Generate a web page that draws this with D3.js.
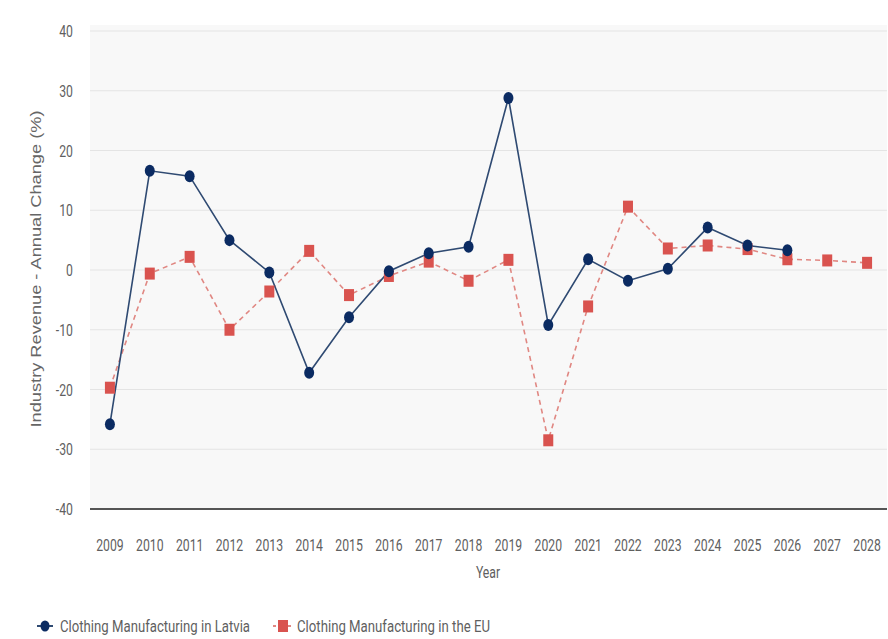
<!DOCTYPE html>
<html>
<head>
<meta charset="utf-8">
<script src="https://cdn.jsdelivr.net/npm/d3@7"></script>
<style>
  html, body { margin: 0; padding: 0; background: #ffffff; }
  svg { display: block; }
</style>
</head>
<body>
<svg id="chart" width="888" height="639"></svg>
<script>
const years = [2009,2010,2011,2012,2013,2014,2015,2016,2017,2018,2019,2020,2021,2022,2023,2024,2025,2026,2027,2028];
const latvia = [-25.8,16.6,15.7,5.0,-0.4,-17.2,-7.9,-0.2,2.8,3.9,28.8,-9.2,1.8,-1.8,0.2,7.1,4.1,3.3,null,null];
const eu = [-19.7,-0.6,2.2,-10.0,-3.6,3.2,-4.2,-1.0,1.4,-1.8,1.7,-28.5,-6.1,10.6,3.6,4.1,3.5,1.8,1.6,1.2];
const yTicks = [-40,-30,-20,-10,0,10,20,30,40];
const seriesNames = ["Clothing Manufacturing in Latvia", "Clothing Manufacturing in the EU"];
const yTitle = "Industry Revenue - Annual Change (%)";
const xTitle = "Year";

(function () {
const svg = d3.select("#chart");
const plotL = 90, plotR = 887, plotT = 31, plotB = 509;

const x = d3.scalePoint().domain(years).range([plotL, plotR]).padding(0.5);
const y = d3.scaleLinear().domain([-40, 40]).range([plotB, plotT]);

// plot background
svg.append("rect").attr("x", plotL).attr("y", plotT - 6).attr("width", plotR - plotL).attr("height", plotB - plotT + 6)
  .attr("fill", "#f8f8f8");

// gridlines
svg.append("g").selectAll("line").data(yTicks.filter(d => d !== -40)).join("line")
  .attr("x1", plotL).attr("x2", plotR)
  .attr("y1", d => y(d)).attr("y2", d => y(d))
  .attr("stroke", "#e4e4e4").attr("stroke-width", 1.2);

// bottom axis line
svg.append("line").attr("x1", plotL).attr("x2", plotR).attr("y1", y(-40)).attr("y2", y(-40))
  .attr("stroke", "#555").attr("stroke-width", 2);

const tickFont = "Roboto, sans-serif";
const tickColor = "#5f5f5f";
const sx = 0.72;

// y tick labels
svg.append("g").selectAll("text").data(yTicks).join("text")
  .attr("transform", d => `translate(73,${y(d) + 6}) scale(${sx},1)`)
  .attr("text-anchor", "end")
  .attr("font-family", tickFont).attr("font-size", 17).attr("fill", tickColor)
  .text(d => d);

// x tick labels
svg.append("g").selectAll("text").data(years).join("text")
  .attr("transform", d => `translate(${x(d)},551) scale(${sx},1)`)
  .attr("text-anchor", "middle")
  .attr("font-family", tickFont).attr("font-size", 17).attr("fill", tickColor)
  .text(d => d);

// axis titles
svg.append("text")
  .attr("transform", `translate(488,578) scale(${sx},1)`)
  .attr("text-anchor", "middle")
  .attr("font-family", tickFont).attr("font-size", 17).attr("fill", tickColor)
  .text(xTitle);

svg.append("text")
  .attr("transform", "translate(41,269) rotate(-90)")
  .attr("text-anchor", "middle")
  .attr("font-family", "'Liberation Sans', Arial, sans-serif").attr("font-size", 14.5).attr("fill", "#666")
  .attr("textLength", 317).attr("lengthAdjust", "spacingAndGlyphs")
  .text(yTitle);

const navyLine = "#2f4a72", navy = "#0b2b62";
const redLine = "#e08782", red = "#d9534f";

const idx = years.map((d, i) => i);

// EU line (dashed)
const lineEU = d3.line().defined(i => eu[i] != null).x(i => x(years[i])).y(i => y(eu[i]));
svg.append("path").attr("d", lineEU(idx)).attr("fill", "none")
  .attr("stroke", redLine).attr("stroke-width", 1.6).attr("stroke-dasharray", "5,4");

// Latvia line
const lineLV = d3.line().defined(i => latvia[i] != null).x(i => x(years[i])).y(i => y(latvia[i]));
svg.append("path").attr("d", lineLV(idx)).attr("fill", "none")
  .attr("stroke", navyLine).attr("stroke-width", 1.6);

// EU markers
svg.append("g").selectAll("rect").data(idx.filter(i => eu[i] != null)).join("rect")
  .attr("x", i => x(years[i]) - 5).attr("y", i => y(eu[i]) - 6)
  .attr("width", 10).attr("height", 12).attr("fill", red);

// Latvia markers
svg.append("g").selectAll("ellipse").data(idx.filter(i => latvia[i] != null)).join("ellipse")
  .attr("cx", i => x(years[i])).attr("cy", i => y(latvia[i]))
  .attr("rx", 5).attr("ry", 6).attr("fill", navy);

// legend
const lg = svg.append("g");
lg.append("line").attr("x1", 37).attr("x2", 53).attr("y1", 626).attr("y2", 626).attr("stroke", navyLine).attr("stroke-width", 2);
lg.append("ellipse").attr("cx", 45).attr("cy", 626).attr("rx", 4.5).attr("ry", 5.5).attr("fill", navy);
lg.append("text").attr("x", 60).attr("y", 632)
  .attr("font-family", tickFont).attr("font-size", 17).attr("fill", tickColor)
  .attr("textLength", 190).attr("lengthAdjust", "spacingAndGlyphs")
  .text(seriesNames[0]);

lg.append("line").attr("x1", 273).attr("x2", 293).attr("y1", 626).attr("y2", 626).attr("stroke", redLine).attr("stroke-width", 2).attr("stroke-dasharray", "3,2");
lg.append("rect").attr("x", 278).attr("y", 620).attr("width", 10).attr("height", 12).attr("fill", red);
lg.append("text").attr("x", 297).attr("y", 632)
  .attr("font-family", tickFont).attr("font-size", 17).attr("fill", tickColor)
  .attr("textLength", 193).attr("lengthAdjust", "spacingAndGlyphs")
  .text(seriesNames[1]);
})();
</script>
</body>
</html>
